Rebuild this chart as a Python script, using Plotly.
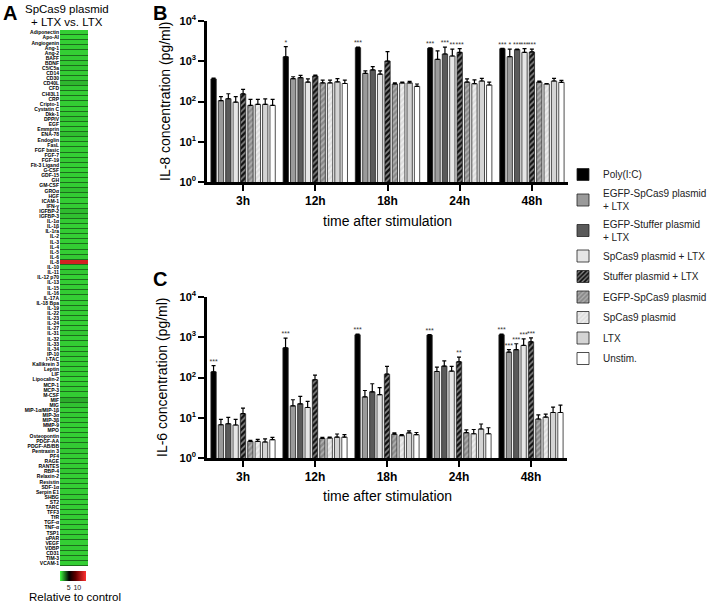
import plotly.graph_objects as go

W, H = 708, 602
def px(x): return x / W
def py(y): return 1 - y / H

# ---------------- Panel A data ----------------
analytes = ["Adiponectin", "Apo-AI", "Angiogenin", "Ang-1", "Ang-2", "BAFF", "BDNF", "C5/C5a", "CD14", "CD30",
            "CD40L", "CFD", "CHI3L1", "CRP", "Cripto-1", "Cystatin C", "Dkk-1", "DPPIV", "EGF", "Emmprin",
            "ENA-78", "Endoglin", "FasL", "FGF basic", "FGF-7", "FGF-19", "Flt-3 Ligand", "G-CSF", "GDF-15", "GH",
            "GM-CSF", "GROα", "HGF", "ICAM-1", "IFN-γ", "IGFBP-2", "IGFBP-3", "IL-1α", "IL-1β", "IL-1ra",
            "IL-2", "IL-3", "IL-4", "IL-5", "IL-6", "IL-8", "IL-10", "IL-11", "IL-12 p70", "IL-13",
            "IL-15", "IL-16", "IL-17A", "IL-18 Bpa", "IL-19", "IL-22", "IL-23", "IL-24", "IL-27", "IL-31",
            "IL-32", "IL-33", "IL-34", "IP-10", "I-TAC", "Kallikrein 3", "Leptin", "LIF", "Lipocalin-2", "MCP-1",
            "MCP-3", "M-CSF", "MIF", "MIG", "MIP-1α/MIP-1β", "MIP-3α", "MIP-3β", "MMP-9", "MPO", "Osteopontin",
            "PDGF-AA", "PDGF-AB/BB", "Pentraxin 3", "PF4", "RAGE", "RANTES", "RBP-4", "Relaxin-2", "Resistin", "SDF-1α",
            "Serpin E1", "SHBG", "ST2", "TARC", "TFF3", "TfR", "TGF-α", "TNF-α", "TSP1", "uPAR",
            "VEGF", "VDBP", "CD31", "TIM-3", "VCAM-1"]
relative = [1.0, 0.9, 1.0, 1.05, 1.0, 1.1, 1.15, 1.2, 1.05, 1.1,
            1.5, 1.1, 1.0, 1.0, 1.05, 1.0, 1.1, 1.2, 1.0, 1.05,
            1.35, 1.1, 1.0, 1.05, 1.0, 1.1, 1.0, 0.95, 1.05, 1.0,
            1.05, 1.3, 1.1, 1.0, 1.05, 1.4, 1.3, 1.1, 1.0, 1.05,
            1.0, 1.0, 1.05, 1.0, 1.1, 13.3, 1.1, 1.15, 0.95, 1.0,
            1.0, 1.05, 1.0, 1.0, 1.1, 1.0, 1.05, 0.95, 1.0, 1.15,
            1.0, 1.05, 1.0, 1.1, 1.0, 1.05, 1.0, 1.05, 0.9, 1.0,
            1.05, 1.05, 1.7, 1.25, 1.0, 1.1, 1.05, 1.0, 0.95, 1.0,
            1.05, 1.1, 1.15, 1.05, 1.0, 1.05, 1.15, 1.0, 1.05, 1.0,
            1.05, 1.1, 1.0, 1.05, 1.0, 1.05, 1.0, 1.05, 1.0, 1.05,
            1.0, 1.1, 1.0, 1.05, 1.0]

# ---------------- Panels B / C data ----------------
times = ["3h", "12h", "18h", "24h", "48h"]
series = ["Poly(I:C)", "EGFP-SpCas9 plasmid<br>+ LTX", "EGFP-Stuffer plasmid<br>+ LTX", "SpCas9 plasmid + LTX",
          "Stuffer plasmid + LTX", "EGFP-SpCas9 plasmid", "SpCas9 plasmid", "LTX", "Unstim."]

il8_mean = [
    [363, 1290, 2180, 2100, 2050],
    [105, 368, 500, 1115, 1300],
    [117, 390, 610, 1515, 1950],
    [96, 304, 480, 1350, 1660],
    [154, 430, 1010, 1660, 1700],
    [80, 290, 272, 304, 304],
    [85, 290, 288, 277, 272],
    [85, 308, 290, 323, 323],
    [80, 280, 238, 257, 300],
]
il8_err = [
    [17, 1010, 60, 50, 50],
    [27, 44, 75, 705, 700],
    [39, 58, 125, 735, 50],
    [36, 59, 95, 640, 390],
    [46, 25, 730, 390, 300],
    [33, 50, 18, 59, 19],
    [28, 50, 17, 66, 8],
    [31, 60, 28, 52, 52],
    [33, 60, 34, 47, 35],
]
il8_sig = [
    ["", "*", "***", "***", "***"],
    ["", "", "", "", "*"],
    ["", "", "", "***", "***"],
    ["", "", "", "**", "***"],
    ["", "", "", "***", "***"],
    ["", "", "", "", ""],
    ["", "", "", "", ""],
    ["", "", "", "", ""],
    ["", "", "", "", ""],
]

il6_mean = [
    [138, 545, 1150, 1130, 1150],
    [6.7, 19.8, 33, 141, 426],
    [7.1, 22.2, 44, 192, 490],
    [6.6, 18, 37.4, 144, 625],
    [12.6, 88, 121, 245, 768],
    [2.58, 3.07, 3.9, 4.25, 9.3],
    [2.58, 3.14, 3.6, 4.0, 10.4],
    [2.5, 3.3, 4.2, 5.25, 13.5],
    [2.85, 3.3, 3.8, 4.0, 13.5],
]
il6_err = [
    [60, 405, 50, 40, 40],
    [2.4, 8.2, 14.6, 40, 64],
    [3.1, 11.8, 26, 68, 200],
    [2.5, 7.4, 18.6, 44, 290],
    [4.8, 27, 67, 75, 199],
    [0.16, 0.18, 0.3, 0.75, 2.5],
    [0.32, 0.16, 0.2, 1.1, 1.9],
    [0.5, 0.65, 0.5, 1.75, 4.9],
    [0.4, 0.5, 0.5, 1.65, 7.2],
]
il6_sig = [
    ["***", "***", "***", "***", "***"],
    ["", "", "", "", "***"],
    ["", "", "", "", "***"],
    ["", "", "", "", "***"],
    ["", "", "", "**", "***"],
    ["", "", "", "", ""],
    ["", "", "", "", ""],
    ["", "", "", "", ""],
    ["", "", "", "", ""],
]

decades = [1, 10, 100, 1000, 10000]
decade_labels = ["10<sup>0</sup>", "10<sup>1</sup>", "10<sup>2</sup>", "10<sup>3</sup>", "10<sup>4</sup>"]

# ---------------- styles ----------------
styles = [
    dict(color="#000000", pat="", fg=None),
    dict(color="#9a9a9a", pat="", fg=None),
    dict(color="#5a5a5a", pat="", fg=None),
    dict(color="#e6e6e6", pat="", fg=None),
    dict(color="#111111", pat="/", fg="#ffffff"),
    dict(color="#8a8a8a", pat="/", fg="#d8d8d8"),
    dict(color="#dedede", pat="/", fg="#ffffff"),
    dict(color="#d4d4d4", pat="", fg=None),
    dict(color="#ffffff", pat="", fg=None),
]
FONT = "Arial, Liberation Sans, sans-serif"

fig = go.Figure()

# Panel A heatmap
fig.add_trace(go.Heatmap(
    z=[[v] for v in relative], y=analytes, x=[""],
    xaxis="x", yaxis="y", zmin=0, zmax=15, ygap=1,
    colorscale=[[0, "#40ff40"], [0.35, "#000000"], [0.6, "#600000"], [1, "#ff3030"]],
    colorbar=dict(orientation="h", x=px(73), xanchor="center", y=py(571), yanchor="top",
                  len=26, lenmode="pixels", thickness=10, thicknessmode="pixels",
                  xpad=0, ypad=0, outlinewidth=0, tickvals=[5, 10], ticks="", tickangle=0,
                  tickfont=dict(size=7, family=FONT, color="#222")),
    showlegend=False, hoverinfo="skip",
))

def add_panel(means, errs, sigs, xa, ya, legend):
    for i, name in enumerate(series):
        st = styles[i]
        marker = dict(color=st["color"], line=dict(color="#222222", width=0.8))
        if st["pat"]:
            marker["pattern"] = dict(shape=st["pat"], fgcolor=st["fg"], size=4, solidity=0.4)
        fig.add_trace(go.Bar(
            x=times, y=means[i], name=name, xaxis=xa, yaxis=ya,
            marker=marker, showlegend=legend, legendgroup=name,
            offsetgroup=str(i), alignmentgroup="g" + xa,
            error_y=dict(type="data", array=errs[i], arrayminus=[0] * 5, symmetric=False,
                         color="#000000", thickness=1.2, width=2),
        ))
    for i, name in enumerate(series):
        tops = [(m + e) if s else None for m, e, s in zip(means[i], errs[i], sigs[i])]
        fig.add_trace(go.Scatter(
            x=times, y=tops, mode="text", text=[s if s else None for s in sigs[i]],
            textposition="top center",
            textfont=dict(size=7, family=FONT, color="#333333"),
            xaxis=xa, yaxis=ya, showlegend=False, hoverinfo="skip",
            offsetgroup=str(i), alignmentgroup="s" + xa, orientation="v",
        ))

add_panel(il8_mean, il8_err, il8_sig, "x2", "y2", True)
add_panel(il6_mean, il6_err, il6_sig, "x3", "y3", False)

xcat = dict(type="category", range=[-0.5, 4.5], showline=True, linewidth=2.5, linecolor="black",
            ticks="outside", ticklen=6, tickwidth=2, tickcolor="black",
            tickfont=dict(size=12, family=FONT, color="black", weight="bold"),
            showgrid=False, zeroline=False, fixedrange=True)
ylog = dict(type="log", range=[0, 4], showline=True, linewidth=2.5, linecolor="black",
            ticks="outside", ticklen=6, tickwidth=2, tickcolor="black",
            tickmode="array", tickvals=decades, ticktext=decade_labels,
            tickfont=dict(size=11, family=FONT, color="black", weight="bold"),
            showgrid=False, zeroline=False)

fig.update_layout(
    width=W, height=H, margin=dict(l=0, r=0, t=0, b=0, autoexpand=False),
    paper_bgcolor="white", plot_bgcolor="white",
    font=dict(family=FONT, color="black"),
    barmode="group", bargap=0.08, bargroupgap=0.28,
    scattermode="group", scattergap=0.08,
    xaxis=dict(domain=[px(60), px(88)], showticklabels=False, ticks="", showline=False,
               showgrid=False, zeroline=False),
    yaxis=dict(domain=[py(566), py(30)], type="category", autorange="reversed",
               tickmode="array", tickvals=analytes, ticktext=analytes, ticks="",
               tickfont=dict(size=5, family=FONT, color="black", weight="bold"),
               showgrid=False, zeroline=False, showline=False),
    xaxis2=dict(domain=[px(207), px(568)], anchor="y2", **xcat),
    yaxis2=dict(domain=[py(182), py(21)], anchor="x2", **ylog),
    xaxis3=dict(domain=[px(207), px(567)], anchor="y3", **xcat),
    yaxis3=dict(domain=[py(458), py(297)], anchor="x3", **ylog),
    legend=dict(x=px(563), y=py(160), xanchor="left", yanchor="top",
                font=dict(size=10, family=FONT, color="#222"), tracegroupgap=1.5,
                bgcolor="rgba(0,0,0,0)"),
    shapes=[dict(type="rect", xref="x domain", yref="y domain", x0=0, x1=1, y0=0, y1=1,
                 fillcolor="#1d6e1d", line=dict(width=0), layer="below")],
)

ann = []
def text(x, y, s, size, bold=False, angle=0, xanchor="center"):
    ann.append(dict(x=px(x), y=py(y), xref="paper", yref="paper", text=s, showarrow=False,
                    textangle=angle, xanchor=xanchor, yanchor="middle",
                    font=dict(size=size, family=FONT, color="black", weight="bold" if bold else "normal")))

text(10, 13, "A", 20, bold=True)
text(67, 9, "SpCas9 plasmid", 11.5)
text(67, 22, "+ LTX vs. LTX", 11.5)
text(75, 597, "Relative to control", 11.5)
text(160, 13, "B", 20, bold=True)
text(160, 279, "C", 20, bold=True)
text(165, 101, "IL-8 concentration (pg/ml)", 14, angle=-90)
text(162, 377, "IL-6 concentration (pg/ml)", 14, angle=-90)
text(387, 221, "time after stimulation", 14)
text(387, 496, "time after stimulation", 14)
fig.update_layout(annotations=ann)

fig.write_html("out.html", config={"displayModeBar": False},
               post_script="document.body.style.margin='0px';")
